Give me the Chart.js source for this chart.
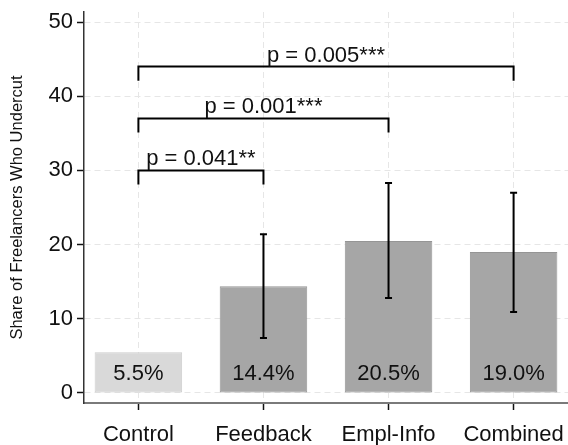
<!DOCTYPE html>
<html>
<head>
<meta charset="utf-8">
<script src="https://cdn.jsdelivr.net/npm/chart.js@4.4.1/dist/chart.umd.min.js"></script>
<style>
  html, body { margin: 0; padding: 0; background: #ffffff; }
  #wrap { width: 568px; height: 445px; }
</style>
</head>
<body>
<div id="wrap"><canvas id="chart" width="568" height="445"></canvas></div>
<script>
// Treatment groups and share of freelancers who undercut (%)
const categories = ['Control', 'Feedback', 'Empl-Info', 'Combined'];
const shares = [5.5, 14.4, 20.5, 19.0];
// 95% confidence interval bounds (none shown for Control)
const ciLow = [null, 7.4, 12.8, 10.9];
const ciHigh = [null, 21.4, 28.3, 27.0];
// Pairwise tests against Control: group indices, bracket height, label
const comparePairs = [[0, 1], [0, 2], [0, 3]];
const bracketLevels = [30, 37, 44];
const pLabels = ['p = 0.041**', 'p = 0.001***', 'p = 0.005***'];
const yTicks = [0, 10, 20, 30, 40, 50];

const FONT = '"Liberation Sans", Arial, Helvetica, sans-serif';
const barFill = ['#d9d9d9', '#a6a6a6', '#a6a6a6', '#a6a6a6'];
const barEdge = ['#cccccc', '#959595', '#959595', '#959595'];

const annotate = {
  id: 'annotate',
  afterDatasetsDraw(chart) {
    const ctx = chart.ctx;
    const xs = chart.scales.x, ys = chart.scales.y;
    ctx.save();

    // value labels near the bottom of each bar
    ctx.fillStyle = '#111111';
    ctx.font = '22px ' + FONT;
    ctx.textAlign = 'center';
    ctx.textBaseline = 'middle';
    shares.forEach((v, i) => {
      ctx.fillText(v.toFixed(1) + '%', xs.getPixelForValue(i + 1), ys.getPixelForValue(0) - 19);
    });

    // confidence interval whiskers
    ctx.strokeStyle = '#000000';
    ctx.lineWidth = 2;
    ciLow.forEach((lo, i) => {
      if (lo === null) return;
      const x = xs.getPixelForValue(i + 1);
      const y1 = ys.getPixelForValue(lo), y2 = ys.getPixelForValue(ciHigh[i]);
      ctx.beginPath();
      ctx.moveTo(x, y1); ctx.lineTo(x, y2);
      ctx.moveTo(x - 3.5, y1); ctx.lineTo(x + 3.5, y1);
      ctx.moveTo(x - 3.5, y2); ctx.lineTo(x + 3.5, y2);
      ctx.stroke();
    });

    // significance brackets
    ctx.textBaseline = 'alphabetic';
    comparePairs.forEach(([a, b], k) => {
      const xa = xs.getPixelForValue(a + 1), xb = xs.getPixelForValue(b + 1);
      const yTop = ys.getPixelForValue(bracketLevels[k]);
      const yEnd = ys.getPixelForValue(bracketLevels[k] - 1.9);
      ctx.beginPath();
      ctx.moveTo(xa, yEnd); ctx.lineTo(xa, yTop); ctx.lineTo(xb, yTop); ctx.lineTo(xb, yEnd);
      ctx.stroke();
      ctx.fillText(pLabels[k], (xa + xb) / 2, yTop - 5);
    });
    ctx.restore();
  }
};

new Chart(document.getElementById('chart'), {
  type: 'bar',
  data: {
    datasets: [{
      data: shares.map((v, i) => ({ x: i + 1, y: v })),
      backgroundColor: barFill,
      borderColor: barEdge,
      borderWidth: 1,
      borderSkipped: false,
      barPercentage: 0.7,
      categoryPercentage: 1.0
    }]
  },
  options: {
    responsive: false,
    devicePixelRatio: 1,
    animation: false,
    layout: { padding: { top: 12, right: 0, bottom: 0, left: 0 } },
    plugins: { legend: { display: false }, tooltip: { enabled: false } },
    scales: {
      x: {
        type: 'linear',
        offset: false,
        min: 0.565,
        max: 4.435,
        afterBuildTicks(scale) { scale.ticks = categories.map((c, i) => ({ value: i + 1 })); },
        afterFit(scale) {
          scale.height = 42;
          scale.paddingLeft = 0;
          scale.paddingRight = 0;
        },
        ticks: {
          callback: (v) => categories[v - 1],
          font: { family: FONT, size: 22 },
          color: '#111111',
          padding: 12,
          maxRotation: 0,
          autoSkip: false
        },
        grid: {
          offset: false,
          color: '#e6e6e6',
          lineWidth: 1,
          drawTicks: true,
          tickLength: 7,
          tickColor: '#111111',
          tickWidth: 1.5,
          tickBorderDash: []
        },
        border: { display: true, color: '#7a7a7a', width: 2, dash: [6, 4] }
      },
      y: {
        min: -1.35,
        max: 51.35,
        afterBuildTicks(scale) { scale.ticks = yTicks.map(v => ({ value: v })); },
        afterFit(scale) {
          scale.width = 84;
          scale.paddingTop = 0;
          scale.paddingBottom = 0;
        },
        ticks: {
          font: { family: FONT, size: 22 },
          color: '#111111',
          padding: 4
        },
        grid: {
          color: '#e6e6e6',
          lineWidth: 1,
          drawTicks: true,
          tickLength: 7,
          tickColor: '#111111',
          tickWidth: 1.5,
          tickBorderDash: []
        },
        border: { display: true, color: '#333333', width: 1.5, dash: [6, 4] },
        title: {
          display: true,
          text: 'Share of Freelancers Who Undercut',
          font: { family: FONT, size: 16.5 },
          color: '#111111',
          padding: { top: 8, bottom: 0 }
        }
      }
    }
  },
  plugins: [annotate]
});
</script>
</body>
</html>
